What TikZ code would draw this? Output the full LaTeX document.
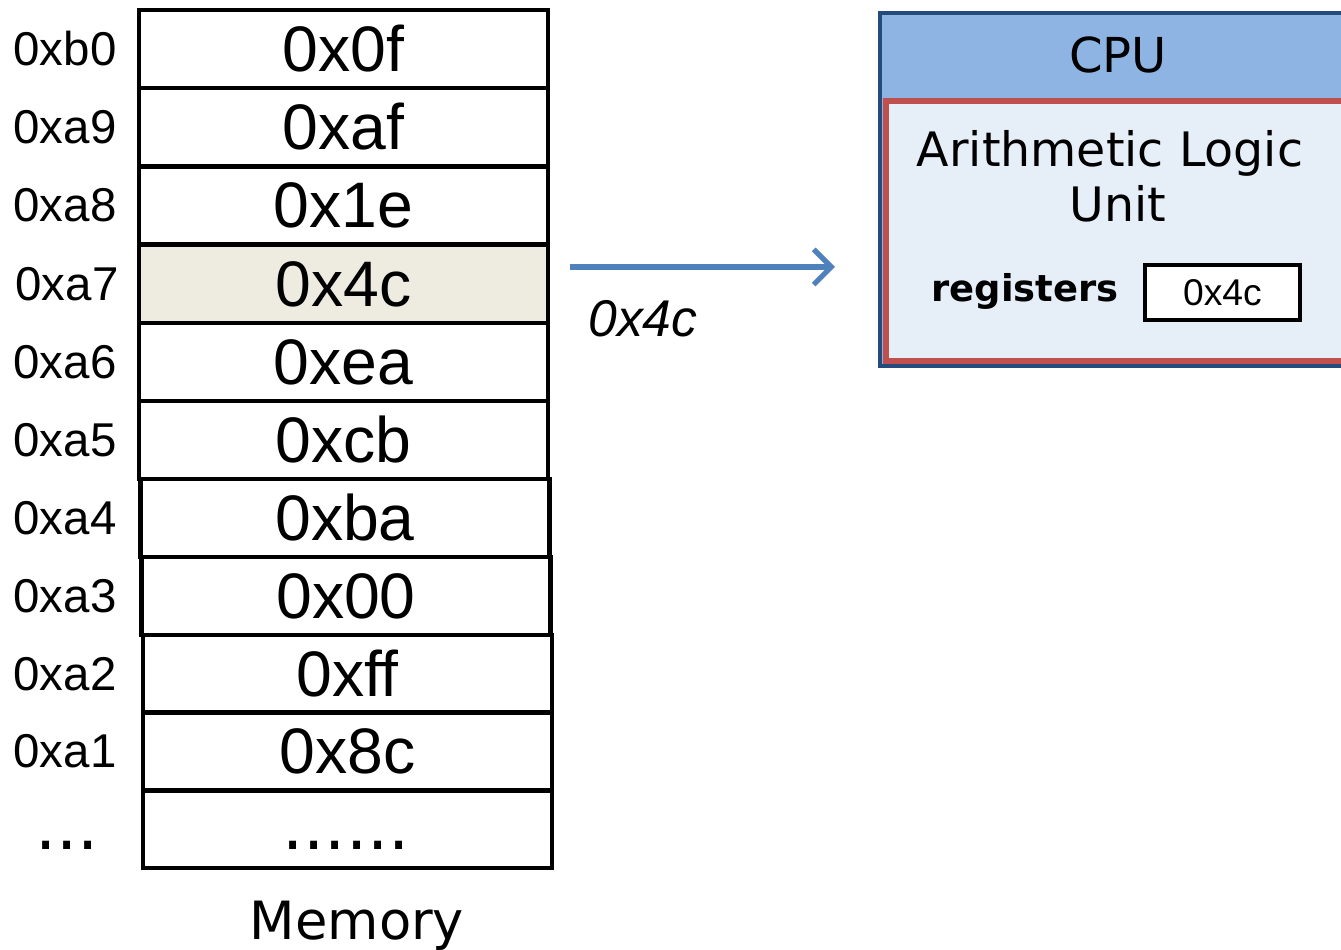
\documentclass[tikz,border=0pt]{standalone}
\usepackage{fontspec}
\usetikzlibrary{arrows.meta}
\newfontfamily\arialf{Liberation Sans}
\newfontfamily\verdf{DejaVu Sans}
\definecolor{hilite}{HTML}{EEECE1}
\definecolor{cpublue}{HTML}{254A7C}
\definecolor{cpuhead}{HTML}{8EB4E3}
\definecolor{alured}{HTML}{C0504D}
\definecolor{alufill}{HTML}{E6EEF8}
\definecolor{arrowblue}{HTML}{4F81BD}
\tikzset{
  cell/.style={draw=black, line width=1.3pt, minimum width=4.09cm, minimum height=0.78cm,
    inner sep=0pt, outer sep=0pt, font=\arialf\fontsize{18.3}{20}\selectfont},
  addr/.style={inner sep=0pt, font=\arialf\fontsize{13.5}{15}\selectfont},
  verd/.style={inner sep=0pt, font=\verdf\fontsize{#1}{#1}\selectfont},
}
\begin{document}
\begin{tikzpicture}
\useasboundingbox (0,0) rectangle (13.41,-9.5);
\clip (0,0) rectangle (13.41,-9.5);
% memory cells
\foreach \i/\v/\x/\y/\ad in {0/0x0f/3.435/0.49/0xb0, 1/0xaf/3.435/1.27/0xa9, 2/0x1e/3.435/2.055/0xa8,
  4/0xea/3.435/3.62/0xa6, 5/0xcb/3.435/4.40/0xa5, 6/0xba/3.45/5.18/0xa4,
  7/0x00/3.46/5.96/0xa3, 8/0xff/3.475/6.74/0xa2, 9/0x8c/3.475/7.515/0xa1}{
  \node[cell] (c\i) at (\x,-\y) {\v};
  \node[addr] (a\i) at (0.65,-\y) {\ad};
}
\node[cell, fill=hilite] (c3) at (3.435,-2.84) {0x4c};
\node[addr] (a3) at (0.67,-2.84) {0xa7};
\node[cell] (c10) at (3.475,-8.29) {};
\node[verd=19, anchor=base] (dots1) at (3.46,-8.50) {......};
\node[verd=19, anchor=base] (dots0) at (0.67,-8.50) {...};
\node[verd=15.0, anchor=base] (memlbl) at (3.57,-9.40) {Memory};
% CPU
\node[draw=cpublue, line width=1.4pt, fill=cpuhead, minimum width=4.9cm, minimum height=3.53cm,
  inner sep=0pt, outer sep=0pt] (cpu) at (11.25,-1.895) {};
\node[draw=alured, line width=1.7pt, fill=alufill, minimum width=4.84cm, minimum height=2.6cm,
  inner sep=0pt, outer sep=0pt] (alu) at (11.28,-2.31) {};
\node[verd=13.7, anchor=base] (cpulbl) at (11.18,-0.73) {CPU};
\node[verd=13.5, anchor=base] (alul1) at (11.10,-1.67) {Arithmetic Logic};
\node[verd=13.5, anchor=base] (alul2) at (11.18,-2.22) {Unit};
\node[inner sep=0pt, anchor=base, font=\verdf\bfseries\fontsize{10.5}{12}\selectfont] (reglbl) at (10.25,-3.02) {registers};
\node[draw=black, line width=1.2pt, fill=white, minimum width=1.55cm, minimum height=0.55cm,
  inner sep=0pt, outer sep=0pt, font=\arialf\fontsize{10.6}{12}\selectfont] (reg) at (12.225,-2.925) {0x4c};
% arrow
\coordinate (arS) at (5.70,-2.67);
\coordinate (arE) at (8.35,-2.67);
\draw[arrowblue, line width=1.5pt, -{Straight Barb[length=5pt,width=10pt,line width=1.5pt]}] (arS) -- (arE);
\node[inner sep=0pt, anchor=base, font=\arialf\itshape\fontsize{14.7}{16}\selectfont] (arlbl) at (6.43,-3.37) {0x4c};
\end{tikzpicture}
\end{document}
